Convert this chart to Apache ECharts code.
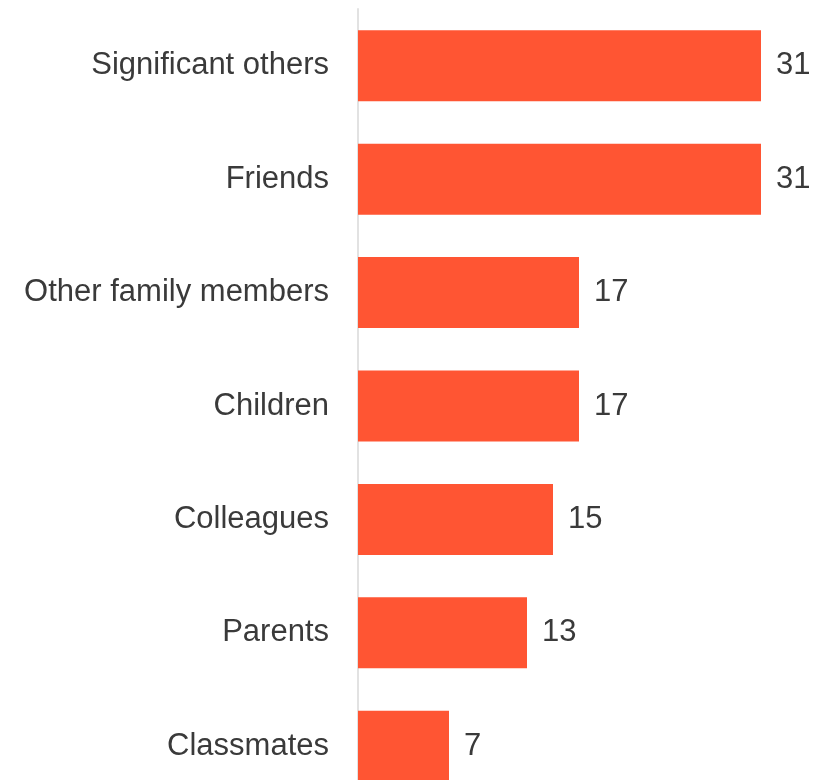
<!DOCTYPE html>
<html>
<head>
<meta charset="utf-8">
<script src="https://cdn.jsdelivr.net/npm/echarts@6/dist/echarts.min.js"></script>
<style>
html,body{margin:0;padding:0;background:#fff;}
#c{width:818px;height:780px;}
</style>
</head>
<body>
<div id="c"></div>
<script>
const categories = ["Significant others","Friends","Other family members","Children","Colleagues","Parents","Classmates"];
const values = [31,31,17,17,15,13,7];

const chart = echarts.init(document.getElementById('c'), null, {renderer:'canvas'});
chart.setOption({
  animation:false,
  backgroundColor:'#ffffff',
  grid:{left:358, width:455, top:9, height:794, containLabel:false, outerBoundsMode:'none'},
  xAxis:{type:'value', min:0, max:35, show:false},
  yAxis:{
    type:'category', data:categories, inverse:true,
    axisLine:{show:true, lineStyle:{color:'#e2e2e2', width:2}},
    axisTick:{show:false},
    axisLabel:{color:'#3a3a3a', fontFamily:'Liberation Sans, Arial, sans-serif', fontSize:31, margin:29}
  },
  series:[{
    type:'bar', data:values, barWidth:71,
    itemStyle:{color:'#ff5533'},
    label:{show:true, position:'right', distance:15, color:'#3a3a3a',
      fontFamily:'Liberation Sans, Arial, sans-serif', fontSize:31}
  }]
});
</script>
</body>
</html>
